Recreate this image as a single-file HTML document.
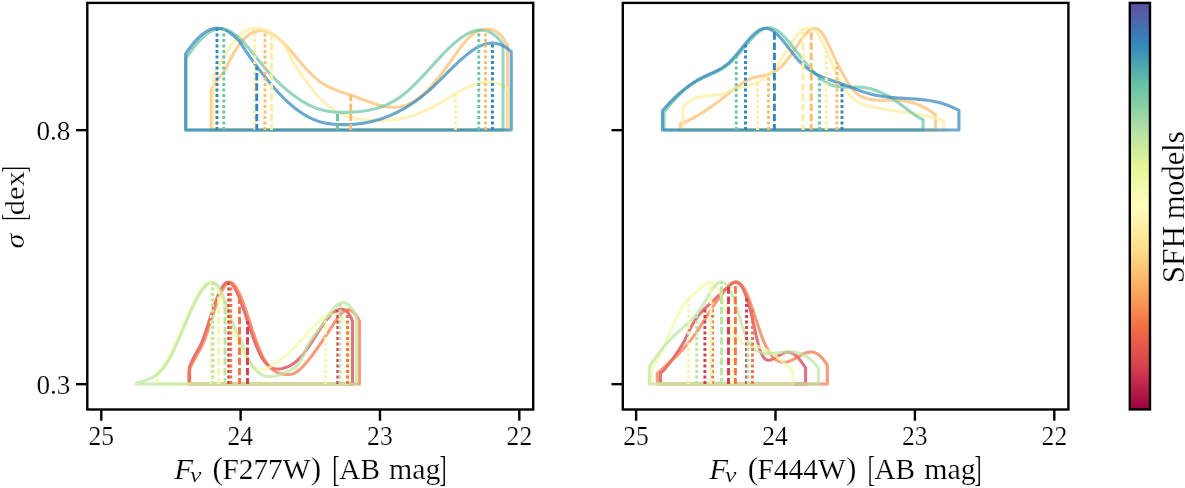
<!DOCTYPE html>
<html lang="en"><head><meta charset="utf-8"><title>SFH models</title>
<style>html,body{margin:0;padding:0;background:#fff}body{width:1185px;height:488px;overflow:hidden}svg{display:block}text{font-family:"Liberation Serif",serif;fill:#000;stroke:#fff;stroke-width:0.2px;paint-order:fill stroke}</style></head><body>
<svg width="1185" height="488" viewBox="0 0 1185 488">
<rect width="1185" height="488" fill="#fff"/>
<defs><linearGradient id="sp" x1="0" y1="0" x2="0" y2="1"><stop offset="0.0000" stop-color="#5e4fa2"/><stop offset="0.0250" stop-color="#545ca8"/><stop offset="0.0500" stop-color="#496aaf"/><stop offset="0.0750" stop-color="#3d79b6"/><stop offset="0.1000" stop-color="#3387bc"/><stop offset="0.1250" stop-color="#3d95b8"/><stop offset="0.1500" stop-color="#4ba4b1"/><stop offset="0.1750" stop-color="#58b2ac"/><stop offset="0.2000" stop-color="#66c2a5"/><stop offset="0.2250" stop-color="#76c8a5"/><stop offset="0.2500" stop-color="#86cfa5"/><stop offset="0.2750" stop-color="#99d6a4"/><stop offset="0.3000" stop-color="#aadca4"/><stop offset="0.3250" stop-color="#bae3a1"/><stop offset="0.3500" stop-color="#c8e99e"/><stop offset="0.3750" stop-color="#d6ee9b"/><stop offset="0.4000" stop-color="#e6f598"/><stop offset="0.4250" stop-color="#ecf7a1"/><stop offset="0.4500" stop-color="#f3faac"/><stop offset="0.4750" stop-color="#f9fcb5"/><stop offset="0.5000" stop-color="#ffffbe"/><stop offset="0.5250" stop-color="#fff7b2"/><stop offset="0.5500" stop-color="#fff0a6"/><stop offset="0.5750" stop-color="#fee797"/><stop offset="0.6000" stop-color="#fee08b"/><stop offset="0.6250" stop-color="#fed481"/><stop offset="0.6500" stop-color="#fdc776"/><stop offset="0.6750" stop-color="#fdbb6c"/><stop offset="0.7000" stop-color="#fdad60"/><stop offset="0.7250" stop-color="#fb9d59"/><stop offset="0.7500" stop-color="#f98e52"/><stop offset="0.7750" stop-color="#f67c4a"/><stop offset="0.8000" stop-color="#f46d43"/><stop offset="0.8250" stop-color="#eb6046"/><stop offset="0.8500" stop-color="#e45549"/><stop offset="0.8750" stop-color="#dd4a4c"/><stop offset="0.9000" stop-color="#d43d4f"/><stop offset="0.9250" stop-color="#c72e4c"/><stop offset="0.9500" stop-color="#b81e48"/><stop offset="0.9750" stop-color="#ab0f45"/><stop offset="1.0000" stop-color="#9e0142"/></linearGradient></defs>
<g fill="none" stroke-width="3.10" stroke-linejoin="round" stroke-linecap="butt">
<path d="M189.60 384.00 L189.60 366.60 L191.12 362.98 L192.64 359.76 L194.17 356.84 L195.69 354.09 L197.21 351.38 L198.73 348.60 L200.26 345.64 L201.78 342.35 L203.30 338.64 L204.82 334.39 L206.35 329.72 L207.87 324.93 L209.39 320.17 L210.91 315.46 L212.44 310.84 L213.96 306.38 L215.48 302.12 L217.00 298.12 L218.53 294.44 L220.05 291.14 L221.57 288.26 L223.09 285.87 L224.62 284.03 L226.14 282.78 L227.66 282.19 L229.18 282.30 L230.71 283.11 L232.23 284.55 L233.75 286.56 L235.27 289.10 L236.80 292.09 L238.32 295.48 L239.84 299.21 L241.36 303.22 L242.89 307.45 L244.41 311.85 L245.93 316.34 L247.45 320.89 L248.97 325.44 L250.50 329.95 L252.02 334.36 L253.54 338.64 L255.06 342.73 L256.59 346.59 L258.11 350.18 L259.63 353.44 L261.15 356.33 L262.68 358.88 L264.20 361.09 L265.72 362.98 L267.24 364.58 L268.77 365.90 L270.29 366.96 L271.81 367.78 L273.33 368.38 L274.86 368.78 L276.38 369.01 L277.90 369.06 L279.42 368.98 L280.95 368.77 L282.47 368.46 L283.99 368.06 L285.51 367.58 L287.04 367.01 L288.56 366.35 L290.08 365.59 L291.60 364.72 L293.13 363.75 L294.65 362.66 L296.17 361.44 L297.69 360.10 L299.21 358.63 L300.74 357.02 L302.26 355.27 L303.78 353.39 L305.30 351.38 L306.83 349.27 L308.35 347.08 L309.87 344.82 L311.39 342.50 L312.92 340.14 L314.44 337.76 L315.96 335.37 L317.48 332.99 L319.01 330.64 L320.53 328.32 L322.05 326.07 L323.57 323.89 L325.10 321.79 L326.62 319.81 L328.14 317.94 L329.66 316.21 L331.19 314.64 L332.71 313.23 L334.23 312.01 L335.75 310.99 L337.28 310.19 L338.80 309.62 L340.32 309.30 L341.84 309.25 L343.37 309.53 L344.89 310.18 L346.41 311.25 L347.93 312.79 L349.46 314.86 L350.98 317.49 L352.50 320.75 L352.50 384.00 Z" stroke="#d43d4f" stroke-opacity="0.72"/>
<path d="M660.40 384.00 L660.40 373.60 L661.93 372.03 L663.46 370.37 L664.99 368.64 L666.51 366.84 L668.04 364.96 L669.57 363.02 L671.10 361.01 L672.63 358.94 L674.16 356.82 L675.68 354.64 L677.21 352.41 L678.74 350.14 L680.27 347.81 L681.80 345.38 L683.33 342.78 L684.85 339.95 L686.38 336.84 L687.91 333.59 L689.44 330.36 L690.97 327.30 L692.50 324.50 L694.03 321.92 L695.55 319.55 L697.08 317.37 L698.61 315.36 L700.14 313.50 L701.67 311.76 L703.20 310.13 L704.72 308.59 L706.25 307.11 L707.78 305.68 L709.31 304.28 L710.84 302.88 L712.37 301.47 L713.89 300.05 L715.42 298.62 L716.95 297.18 L718.48 295.74 L720.01 294.29 L721.54 292.84 L723.07 291.38 L724.59 289.91 L726.12 288.45 L727.65 286.98 L729.18 285.53 L730.71 284.20 L732.24 283.09 L733.76 282.29 L735.29 281.92 L736.82 282.04 L738.35 282.71 L739.88 283.97 L741.41 285.87 L742.93 288.46 L744.46 291.76 L745.99 295.72 L747.52 300.31 L749.05 305.49 L750.58 311.22 L752.11 317.45 L753.63 324.15 L755.16 331.17 L756.69 338.04 L758.22 344.25 L759.75 349.34 L761.28 353.30 L762.80 356.23 L764.33 358.26 L765.86 359.53 L767.39 360.15 L768.92 360.24 L770.45 359.94 L771.97 359.36 L773.50 358.62 L775.03 357.81 L776.56 356.94 L778.09 356.06 L779.62 355.20 L781.15 354.39 L782.67 353.66 L784.20 353.05 L785.73 352.59 L787.26 352.31 L788.79 352.25 L790.32 352.44 L791.84 352.91 L793.37 353.68 L794.90 354.73 L796.43 356.04 L797.96 357.59 L799.49 359.35 L801.01 361.29 L802.54 363.40 L804.07 365.64 L805.60 368.00 L805.60 384.00 Z" stroke="#d43d4f" stroke-opacity="0.72"/>
<path d="M188.70 384.00 L188.70 371.50 L190.22 367.92 L191.75 364.69 L193.27 361.71 L194.80 358.91 L196.32 356.20 L197.85 353.52 L199.38 350.77 L200.90 347.88 L202.42 344.76 L203.95 341.33 L205.47 337.53 L207.00 333.27 L208.52 328.64 L210.05 323.79 L211.57 318.86 L213.10 314.00 L214.62 309.31 L216.15 304.86 L217.67 300.69 L219.20 296.83 L220.72 293.34 L222.25 290.25 L223.77 287.61 L225.30 285.47 L226.82 283.86 L228.35 282.83 L229.88 282.42 L231.40 282.68 L232.92 283.59 L234.45 285.09 L235.97 287.15 L237.50 289.70 L239.02 292.69 L240.55 296.07 L242.07 299.79 L243.60 303.80 L245.12 308.03 L246.65 312.45 L248.18 316.99 L249.70 321.61 L251.22 326.25 L252.75 330.87 L254.27 335.39 L255.80 339.79 L257.32 343.99 L258.85 347.96 L260.38 351.63 L261.90 354.96 L263.43 357.94 L264.95 360.59 L266.48 362.94 L268.00 364.99 L269.52 366.78 L271.05 368.31 L272.57 369.63 L274.10 370.73 L275.62 371.65 L277.15 372.41 L278.68 373.02 L280.20 373.50 L281.73 373.88 L283.25 374.18 L284.77 374.41 L286.30 374.55 L287.82 374.59 L289.35 374.50 L290.88 374.28 L292.40 373.91 L293.93 373.36 L295.45 372.62 L296.98 371.68 L298.50 370.56 L300.02 369.27 L301.55 367.84 L303.07 366.28 L304.60 364.61 L306.12 362.84 L307.65 361.01 L309.18 359.12 L310.70 357.18 L312.23 355.19 L313.75 353.16 L315.27 351.08 L316.80 348.96 L318.32 346.81 L319.85 344.62 L321.38 342.40 L322.90 340.16 L324.43 337.89 L325.95 335.60 L327.48 333.29 L329.00 330.97 L330.52 328.63 L332.05 326.29 L333.57 323.94 L335.10 321.62 L336.62 319.37 L338.15 317.25 L339.68 315.29 L341.20 313.55 L342.73 312.07 L344.25 310.90 L345.77 310.08 L347.30 309.66 L348.82 309.68 L350.35 310.14 L351.88 311.01 L353.40 312.27 L354.93 313.90 L356.45 315.87 L357.98 318.16 L359.50 320.75 L359.50 384.00 Z" stroke="#f57547" stroke-opacity="0.72"/>
<path d="M657.30 384.00 L657.30 373.60 L658.82 372.15 L660.34 370.73 L661.85 369.32 L663.37 367.93 L664.89 366.55 L666.41 365.18 L667.92 363.80 L669.44 362.42 L670.96 361.04 L672.48 359.64 L674.00 358.22 L675.51 356.78 L677.03 355.31 L678.55 353.81 L680.07 352.27 L681.59 350.69 L683.10 349.07 L684.62 347.40 L686.14 345.66 L687.66 343.87 L689.17 342.02 L690.69 340.10 L692.21 338.11 L693.73 336.07 L695.25 333.96 L696.76 331.79 L698.28 329.56 L699.80 327.28 L701.32 324.94 L702.84 322.54 L704.35 320.10 L705.87 317.63 L707.39 315.17 L708.91 312.74 L710.42 310.36 L711.94 308.06 L713.46 305.84 L714.98 303.68 L716.50 301.58 L718.01 299.52 L719.53 297.51 L721.05 295.53 L722.57 293.56 L724.09 291.62 L725.60 289.73 L727.12 287.95 L728.64 286.33 L730.16 284.94 L731.67 283.82 L733.19 282.99 L734.71 282.49 L736.23 282.35 L737.75 282.60 L739.26 283.27 L740.78 284.39 L742.30 286.00 L743.82 288.12 L745.34 290.79 L746.85 293.95 L748.37 297.55 L749.89 301.50 L751.41 305.73 L752.92 310.18 L754.44 314.75 L755.96 319.39 L757.48 324.02 L759.00 328.55 L760.51 332.93 L762.03 337.07 L763.55 340.91 L765.07 344.38 L766.59 347.49 L768.10 350.25 L769.62 352.69 L771.14 354.81 L772.66 356.63 L774.17 358.17 L775.69 359.44 L777.21 360.45 L778.73 361.23 L780.25 361.78 L781.76 362.12 L783.28 362.26 L784.80 362.23 L786.32 362.03 L787.84 361.67 L789.35 361.19 L790.87 360.58 L792.39 359.88 L793.91 359.11 L795.42 358.28 L796.94 357.42 L798.46 356.55 L799.98 355.69 L801.50 354.88 L803.01 354.12 L804.53 353.44 L806.05 352.86 L807.57 352.41 L809.09 352.11 L810.60 351.98 L812.12 352.04 L813.64 352.31 L815.16 352.82 L816.67 353.55 L818.19 354.51 L819.71 355.71 L821.23 357.13 L822.75 358.78 L824.26 360.66 L825.78 362.77 L827.30 365.11 L827.30 384.00 Z" stroke="#f57547" stroke-opacity="0.72"/>
<path d="M211.25 130.00 L211.25 90.50 L212.76 87.18 L214.27 84.40 L215.78 82.03 L217.30 79.96 L218.81 78.07 L220.32 76.25 L221.83 74.38 L223.34 72.35 L224.85 70.05 L226.36 67.40 L227.88 64.47 L229.39 61.42 L230.90 58.39 L232.41 55.50 L233.92 52.79 L235.43 50.25 L236.95 47.88 L238.46 45.69 L239.97 43.65 L241.48 41.78 L242.99 40.06 L244.50 38.50 L246.01 37.08 L247.53 35.82 L249.04 34.70 L250.55 33.72 L252.06 32.89 L253.57 32.19 L255.08 31.63 L256.59 31.21 L258.11 30.91 L259.62 30.74 L261.13 30.70 L262.64 30.79 L264.15 30.99 L265.66 31.32 L267.17 31.76 L268.69 32.31 L270.20 32.98 L271.71 33.75 L273.22 34.64 L274.73 35.62 L276.24 36.71 L277.76 37.89 L279.27 39.16 L280.78 40.51 L282.29 41.93 L283.80 43.42 L285.31 44.97 L286.82 46.57 L288.34 48.22 L289.85 49.90 L291.36 51.62 L292.87 53.37 L294.38 55.14 L295.89 56.92 L297.40 58.70 L298.92 60.48 L300.43 62.26 L301.94 64.02 L303.45 65.76 L304.96 67.48 L306.47 69.15 L307.98 70.79 L309.50 72.38 L311.01 73.92 L312.52 75.39 L314.03 76.79 L315.54 78.12 L317.05 79.37 L318.57 80.55 L320.08 81.66 L321.59 82.70 L323.10 83.68 L324.61 84.60 L326.12 85.46 L327.63 86.27 L329.15 87.04 L330.66 87.76 L332.17 88.44 L333.68 89.09 L335.19 89.70 L336.70 90.29 L338.21 90.85 L339.73 91.39 L341.24 91.92 L342.75 92.43 L344.26 92.94 L345.77 93.43 L347.28 93.93 L348.79 94.43 L350.31 94.94 L351.82 95.45 L353.33 95.98 L354.84 96.53 L356.35 97.08 L357.86 97.65 L359.38 98.22 L360.89 98.80 L362.40 99.38 L363.91 99.95 L365.42 100.53 L366.93 101.10 L368.44 101.66 L369.96 102.20 L371.47 102.74 L372.98 103.25 L374.49 103.75 L376.00 104.23 L377.51 104.68 L379.02 105.11 L380.54 105.50 L382.05 105.87 L383.56 106.20 L385.07 106.49 L386.58 106.74 L388.09 106.95 L389.60 107.11 L391.12 107.23 L392.63 107.30 L394.14 107.31 L395.65 107.27 L397.16 107.17 L398.67 107.00 L400.18 106.78 L401.70 106.49 L403.21 106.13 L404.72 105.70 L406.23 105.19 L407.74 104.61 L409.25 103.95 L410.77 103.21 L412.28 102.39 L413.79 101.50 L415.30 100.54 L416.81 99.50 L418.32 98.39 L419.83 97.21 L421.35 95.97 L422.86 94.66 L424.37 93.29 L425.88 91.86 L427.39 90.37 L428.90 88.82 L430.41 87.22 L431.93 85.56 L433.44 83.85 L434.95 82.09 L436.46 80.28 L437.97 78.43 L439.48 76.53 L440.99 74.59 L442.51 72.60 L444.02 70.58 L445.53 68.52 L447.04 66.43 L448.55 64.30 L450.06 62.15 L451.58 59.99 L453.09 57.83 L454.60 55.68 L456.11 53.55 L457.62 51.44 L459.13 49.38 L460.64 47.37 L462.16 45.42 L463.67 43.54 L465.18 41.74 L466.69 40.03 L468.20 38.43 L469.71 36.94 L471.22 35.57 L472.74 34.33 L474.25 33.24 L475.76 32.31 L477.27 31.52 L478.78 30.88 L480.29 30.37 L481.80 29.97 L483.32 29.67 L484.83 29.47 L486.34 29.35 L487.85 29.32 L489.36 29.40 L490.87 29.61 L492.39 29.97 L493.90 30.49 L495.41 31.19 L496.92 32.10 L498.43 33.22 L499.94 34.57 L501.45 36.18 L502.97 38.06 L504.48 40.23 L505.99 42.70 L507.50 45.50 L507.50 130.00 Z" stroke="#fdbd6d" stroke-opacity="0.72"/>
<path d="M680.40 130.00 L680.40 123.90 L681.91 123.31 L683.42 122.70 L684.93 122.05 L686.44 121.38 L687.94 120.67 L689.45 119.94 L690.96 119.18 L692.47 118.40 L693.98 117.59 L695.49 116.75 L697.00 115.89 L698.51 115.00 L700.02 114.09 L701.52 113.16 L703.03 112.21 L704.54 111.24 L706.05 110.24 L707.56 109.23 L709.07 108.20 L710.58 107.15 L712.09 106.08 L713.60 105.00 L715.10 103.90 L716.61 102.79 L718.12 101.66 L719.63 100.52 L721.14 99.36 L722.65 98.19 L724.16 97.02 L725.67 95.84 L727.18 94.65 L728.68 93.47 L730.19 92.28 L731.70 91.10 L733.21 89.93 L734.72 88.76 L736.23 87.61 L737.74 86.48 L739.25 85.37 L740.76 84.30 L742.26 83.28 L743.77 82.31 L745.28 81.39 L746.79 80.55 L748.30 79.79 L749.81 79.11 L751.32 78.52 L752.83 78.02 L754.33 77.59 L755.84 77.21 L757.35 76.88 L758.86 76.57 L760.37 76.28 L761.88 75.99 L763.39 75.69 L764.90 75.36 L766.41 74.99 L767.91 74.56 L769.42 74.07 L770.93 73.49 L772.44 72.82 L773.95 72.04 L775.46 71.13 L776.97 70.10 L778.48 68.94 L779.99 67.66 L781.49 66.26 L783.00 64.74 L784.51 63.11 L786.02 61.37 L787.53 59.52 L789.04 57.56 L790.55 55.50 L792.06 53.34 L793.57 51.11 L795.07 48.82 L796.58 46.52 L798.09 44.23 L799.60 41.98 L801.11 39.80 L802.62 37.71 L804.13 35.76 L805.64 33.97 L807.15 32.37 L808.65 30.99 L810.16 29.86 L811.67 29.01 L813.18 28.46 L814.69 28.26 L816.20 28.42 L817.71 28.98 L819.22 29.97 L820.73 31.41 L822.23 33.30 L823.74 35.57 L825.25 38.16 L826.76 41.02 L828.27 44.08 L829.78 47.29 L831.29 50.58 L832.80 53.90 L834.31 57.18 L835.81 60.37 L837.32 63.45 L838.83 66.43 L840.34 69.31 L841.85 72.11 L843.36 74.82 L844.87 77.46 L846.38 80.03 L847.89 82.50 L849.39 84.83 L850.90 87.02 L852.41 89.02 L853.92 90.81 L855.43 92.36 L856.94 93.68 L858.45 94.79 L859.96 95.73 L861.47 96.52 L862.97 97.19 L864.48 97.76 L865.99 98.26 L867.50 98.69 L869.01 99.06 L870.52 99.38 L872.03 99.63 L873.54 99.85 L875.04 100.01 L876.55 100.14 L878.06 100.23 L879.57 100.29 L881.08 100.33 L882.59 100.35 L884.10 100.35 L885.61 100.33 L887.12 100.31 L888.62 100.29 L890.13 100.27 L891.64 100.25 L893.15 100.25 L894.66 100.26 L896.17 100.29 L897.68 100.35 L899.19 100.43 L900.70 100.55 L902.20 100.71 L903.71 100.90 L905.22 101.13 L906.73 101.39 L908.24 101.70 L909.75 102.04 L911.26 102.42 L912.77 102.85 L914.28 103.31 L915.78 103.82 L917.29 104.37 L918.80 104.97 L920.31 105.61 L921.82 106.29 L923.33 107.02 L924.84 107.80 L926.35 108.62 L927.86 109.50 L929.36 110.42 L930.87 111.39 L932.38 112.41 L933.89 113.48 L935.40 114.60 L935.40 130.00 Z" stroke="#fdbd6d" stroke-opacity="0.72"/>
<path d="M213.75 130.00 L213.75 75.50 L215.26 72.62 L216.77 69.78 L218.28 66.98 L219.80 64.23 L221.31 61.54 L222.82 58.90 L224.33 56.34 L225.84 53.85 L227.35 51.44 L228.87 49.12 L230.38 46.89 L231.89 44.76 L233.40 42.73 L234.91 40.82 L236.42 39.02 L237.93 37.35 L239.45 35.80 L240.96 34.40 L242.47 33.13 L243.98 32.02 L245.49 31.06 L247.00 30.24 L248.52 29.56 L250.03 29.02 L251.54 28.61 L253.05 28.32 L254.56 28.16 L256.07 28.11 L257.58 28.18 L259.10 28.35 L260.61 28.62 L262.12 28.98 L263.63 29.44 L265.14 29.98 L266.65 30.61 L268.17 31.31 L269.68 32.08 L271.19 32.92 L272.70 33.82 L274.21 34.77 L275.72 35.79 L277.23 36.92 L278.75 38.22 L280.26 39.75 L281.77 41.56 L283.28 43.66 L284.79 46.05 L286.30 48.72 L287.82 51.59 L289.33 54.56 L290.84 57.53 L292.35 60.40 L293.86 63.09 L295.37 65.60 L296.88 67.97 L298.40 70.23 L299.91 72.41 L301.42 74.54 L302.93 76.66 L304.44 78.79 L305.95 80.91 L307.47 83.01 L308.98 85.09 L310.49 87.13 L312.00 89.12 L313.51 91.05 L315.02 92.91 L316.53 94.69 L318.05 96.38 L319.56 98.00 L321.07 99.53 L322.58 101.00 L324.09 102.38 L325.60 103.70 L327.12 104.95 L328.63 106.13 L330.14 107.25 L331.65 108.30 L333.16 109.29 L334.67 110.23 L336.18 111.10 L337.70 111.92 L339.21 112.69 L340.72 113.41 L342.23 114.07 L343.74 114.69 L345.25 115.27 L346.77 115.80 L348.28 116.30 L349.79 116.75 L351.30 117.17 L352.81 117.55 L354.32 117.90 L355.83 118.22 L357.35 118.51 L358.86 118.77 L360.37 119.01 L361.88 119.23 L363.39 119.42 L364.90 119.60 L366.42 119.76 L367.93 119.91 L369.44 120.03 L370.95 120.14 L372.46 120.24 L373.97 120.31 L375.48 120.37 L377.00 120.41 L378.51 120.44 L380.02 120.44 L381.53 120.42 L383.04 120.39 L384.55 120.34 L386.07 120.27 L387.58 120.17 L389.09 120.06 L390.60 119.93 L392.11 119.78 L393.62 119.61 L395.13 119.41 L396.65 119.20 L398.16 118.96 L399.67 118.70 L401.18 118.42 L402.69 118.12 L404.20 117.80 L405.72 117.45 L407.23 117.08 L408.74 116.69 L410.25 116.28 L411.76 115.84 L413.27 115.38 L414.78 114.89 L416.30 114.38 L417.81 113.84 L419.32 113.28 L420.83 112.70 L422.34 112.09 L423.85 111.46 L425.37 110.80 L426.88 110.11 L428.39 109.40 L429.90 108.66 L431.41 107.89 L432.92 107.10 L434.43 106.28 L435.95 105.44 L437.46 104.59 L438.97 103.71 L440.48 102.83 L441.99 101.93 L443.50 101.02 L445.02 100.10 L446.53 99.18 L448.04 98.26 L449.55 97.34 L451.06 96.43 L452.57 95.51 L454.08 94.61 L455.60 93.72 L457.11 92.85 L458.62 91.99 L460.13 91.14 L461.64 90.32 L463.15 89.53 L464.67 88.76 L466.18 88.02 L467.69 87.31 L469.20 86.63 L470.71 85.99 L472.22 85.39 L473.73 84.83 L475.25 84.32 L476.76 83.85 L478.27 83.43 L479.78 83.06 L481.29 82.75 L482.80 82.49 L484.32 82.29 L485.83 82.16 L487.34 82.09 L488.85 82.08 L490.36 82.15 L491.87 82.28 L493.38 82.50 L494.90 82.78 L496.41 83.15 L497.92 83.60 L499.43 84.14 L500.94 84.76 L502.45 85.47 L503.97 86.27 L505.48 87.17 L506.99 88.17 L508.50 89.26 L508.50 130.00 Z" stroke="#feeda1" stroke-opacity="0.72"/>
<path d="M682.90 130.00 L682.90 107.50 L684.42 105.88 L685.93 104.44 L687.45 103.14 L688.96 101.99 L690.48 100.97 L691.99 100.08 L693.51 99.30 L695.03 98.63 L696.54 98.05 L698.06 97.57 L699.57 97.15 L701.09 96.81 L702.60 96.52 L704.12 96.28 L705.64 96.09 L707.15 95.92 L708.67 95.76 L710.18 95.62 L711.70 95.49 L713.21 95.34 L714.73 95.17 L716.25 94.97 L717.76 94.74 L719.28 94.46 L720.79 94.13 L722.31 93.73 L723.82 93.28 L725.34 92.78 L726.86 92.25 L728.37 91.70 L729.89 91.13 L731.40 90.56 L732.92 90.00 L734.43 89.45 L735.95 88.92 L737.47 88.43 L738.98 87.99 L740.50 87.57 L742.01 87.19 L743.53 86.82 L745.04 86.46 L746.56 86.09 L748.08 85.71 L749.59 85.31 L751.11 84.87 L752.62 84.39 L754.14 83.86 L755.65 83.27 L757.17 82.60 L758.68 81.85 L760.20 81.01 L761.72 80.08 L763.23 79.06 L764.75 77.95 L766.26 76.74 L767.78 75.43 L769.29 74.04 L770.81 72.54 L772.33 70.95 L773.84 69.25 L775.36 67.46 L776.87 65.56 L778.39 63.56 L779.90 61.46 L781.42 59.26 L782.94 56.94 L784.45 54.53 L785.97 52.05 L787.48 49.54 L789.00 47.02 L790.51 44.54 L792.03 42.13 L793.55 39.82 L795.06 37.65 L796.58 35.65 L798.09 33.85 L799.61 32.30 L801.12 31.01 L802.64 29.98 L804.16 29.20 L805.67 28.67 L807.19 28.39 L808.70 28.34 L810.22 28.53 L811.73 28.94 L813.25 29.59 L814.77 30.52 L816.28 31.87 L817.80 33.74 L819.31 36.25 L820.83 39.22 L822.34 42.34 L823.86 45.57 L825.38 48.88 L826.89 52.25 L828.41 55.66 L829.92 59.09 L831.44 62.52 L832.95 65.91 L834.47 69.26 L835.99 72.54 L837.50 75.72 L839.02 78.78 L840.53 81.71 L842.05 84.47 L843.56 87.05 L845.08 89.42 L846.60 91.57 L848.11 93.52 L849.63 95.28 L851.14 96.85 L852.66 98.26 L854.17 99.51 L855.69 100.61 L857.21 101.59 L858.72 102.44 L860.24 103.19 L861.75 103.85 L863.27 104.42 L864.78 104.93 L866.30 105.38 L867.82 105.79 L869.33 106.16 L870.85 106.51 L872.36 106.86 L873.88 107.18 L875.39 107.50 L876.91 107.81 L878.42 108.10 L879.94 108.39 L881.46 108.66 L882.97 108.93 L884.49 109.19 L886.00 109.45 L887.52 109.69 L889.03 109.94 L890.55 110.17 L892.07 110.41 L893.58 110.63 L895.10 110.86 L896.61 111.08 L898.13 111.31 L899.64 111.53 L901.16 111.75 L902.68 111.97 L904.19 112.20 L905.71 112.42 L907.22 112.65 L908.74 112.88 L910.25 113.12 L911.77 113.36 L913.29 113.60 L914.80 113.85 L916.32 114.11 L917.83 114.38 L919.35 114.65 L920.86 114.93 L922.38 115.23 L923.90 115.53 L925.41 115.84 L926.93 116.17 L928.44 116.50 L929.96 116.85 L931.47 117.22 L932.99 117.60 L934.51 117.99 L936.02 118.40 L937.54 118.82 L939.05 119.27 L940.57 119.73 L942.08 120.20 L943.60 120.70 L943.60 130.00 Z" stroke="#feeda1" stroke-opacity="0.72"/>
<path d="M157.50 384.00 L157.50 371.99 L159.01 370.85 L160.53 369.41 L162.04 367.70 L163.56 365.74 L165.07 363.54 L166.59 361.13 L168.10 358.52 L169.61 355.73 L171.13 352.79 L172.64 349.70 L174.16 346.49 L175.67 343.17 L177.19 339.77 L178.70 336.31 L180.21 332.79 L181.73 329.25 L183.24 325.69 L184.76 322.14 L186.27 318.62 L187.79 315.14 L189.30 311.73 L190.81 308.40 L192.33 305.17 L193.84 302.05 L195.36 299.08 L196.87 296.26 L198.39 293.61 L199.90 291.16 L201.41 288.92 L202.93 286.92 L204.44 285.16 L205.96 283.71 L207.47 282.62 L208.99 281.94 L210.50 281.74 L212.01 282.05 L213.53 282.95 L215.04 284.49 L216.56 286.67 L218.07 289.47 L219.59 292.88 L221.10 296.85 L222.61 301.35 L224.13 306.16 L225.64 311.05 L227.16 315.78 L228.67 320.13 L230.19 324.11 L231.70 327.80 L233.21 331.31 L234.73 334.71 L236.24 338.10 L237.76 341.52 L239.27 344.91 L240.79 348.23 L242.30 351.41 L243.81 354.39 L245.33 357.13 L246.84 359.57 L248.36 361.74 L249.87 363.62 L251.39 365.23 L252.90 366.58 L254.41 367.67 L255.93 368.51 L257.44 369.11 L258.96 369.48 L260.47 369.65 L261.99 369.63 L263.50 369.43 L265.01 369.06 L266.53 368.56 L268.04 367.92 L269.56 367.16 L271.07 366.31 L272.59 365.38 L274.10 364.37 L275.61 363.32 L277.13 362.22 L278.64 361.10 L280.16 359.96 L281.67 358.78 L283.19 357.58 L284.70 356.35 L286.21 355.08 L287.73 353.78 L289.24 352.45 L290.76 351.08 L292.27 349.67 L293.79 348.22 L295.30 346.73 L296.81 345.19 L298.33 343.61 L299.84 341.99 L301.36 340.32 L302.87 338.61 L304.39 336.87 L305.90 335.12 L307.41 333.37 L308.93 331.62 L310.44 329.90 L311.96 328.20 L313.47 326.56 L314.99 324.96 L316.50 323.44 L318.01 321.99 L319.53 320.63 L321.04 319.38 L322.56 318.23 L324.07 317.22 L325.59 316.34 L327.10 315.61 L328.61 315.03 L330.13 314.64 L331.64 314.42 L333.16 314.40 L334.67 314.58 L336.19 314.99 L337.70 315.62 L339.21 316.50 L340.73 317.63 L342.24 319.02 L343.76 320.69 L345.27 322.65 L346.79 324.91 L348.30 327.48 L348.30 384.00 Z" stroke="#f1f9a9" stroke-opacity="0.72"/>
<path d="M651.80 384.00 L651.80 368.09 L653.32 366.04 L654.83 363.74 L656.35 361.20 L657.86 358.46 L659.38 355.54 L660.90 352.46 L662.41 349.25 L663.93 345.94 L665.45 342.56 L666.96 339.12 L668.48 335.65 L669.99 332.19 L671.51 328.74 L673.03 325.35 L674.54 322.03 L676.06 318.82 L677.57 315.72 L679.09 312.77 L680.61 309.99 L682.12 307.41 L683.64 305.04 L685.15 302.93 L686.67 301.06 L688.19 299.40 L689.70 297.91 L691.22 296.54 L692.74 295.22 L694.25 293.93 L695.77 292.60 L697.28 291.22 L698.80 289.82 L700.32 288.44 L701.83 287.12 L703.35 285.88 L704.86 284.77 L706.38 283.83 L707.90 283.10 L709.41 282.65 L710.93 282.53 L712.45 282.82 L713.96 283.57 L715.48 284.84 L716.99 286.70 L718.51 289.20 L720.03 292.39 L721.54 296.16 L723.06 300.38 L724.57 304.92 L726.09 309.64 L727.61 314.41 L729.12 319.09 L730.64 323.55 L732.15 327.65 L733.67 331.26 L735.19 334.31 L736.70 336.84 L738.22 338.91 L739.74 340.56 L741.25 341.85 L742.77 342.83 L744.28 343.56 L745.80 344.07 L747.32 344.44 L748.83 344.70 L750.35 344.91 L751.86 345.12 L753.38 345.38 L754.90 345.71 L756.41 346.10 L757.93 346.56 L759.45 347.08 L760.96 347.66 L762.48 348.30 L763.99 349.00 L765.51 349.75 L767.03 350.56 L768.54 351.42 L770.06 352.34 L771.57 353.30 L773.09 354.31 L774.61 355.37 L776.12 356.48 L777.64 357.62 L779.15 358.82 L780.67 360.05 L782.19 361.32 L783.70 362.63 L785.22 363.98 L786.74 365.36 L788.25 366.77 L789.77 368.22 L791.28 369.69 L792.80 371.20 L792.80 384.00 Z" stroke="#f1f9a9" stroke-opacity="0.72"/>
<path d="M136.25 384.00 L136.25 383.30 L137.77 382.81 L139.29 382.33 L140.80 381.87 L142.32 381.41 L143.84 380.94 L145.36 380.44 L146.87 379.90 L148.39 379.30 L149.91 378.65 L151.43 377.92 L152.94 377.09 L154.46 376.17 L155.98 375.13 L157.50 373.97 L159.01 372.66 L160.53 371.20 L162.05 369.58 L163.57 367.78 L165.08 365.79 L166.60 363.59 L168.12 361.18 L169.64 358.56 L171.15 355.74 L172.67 352.75 L174.19 349.61 L175.71 346.34 L177.22 342.96 L178.74 339.49 L180.26 335.95 L181.78 332.36 L183.30 328.75 L184.81 325.13 L186.33 321.53 L187.85 317.96 L189.37 314.45 L190.88 311.02 L192.40 307.69 L193.92 304.48 L195.44 301.41 L196.95 298.50 L198.47 295.77 L199.99 293.24 L201.51 290.93 L203.02 288.86 L204.54 287.04 L206.06 285.50 L207.58 284.27 L209.09 283.35 L210.61 282.77 L212.13 282.54 L213.65 282.70 L215.16 283.31 L216.68 284.44 L218.20 286.17 L219.72 288.57 L221.23 291.67 L222.75 295.35 L224.27 299.47 L225.79 303.89 L227.31 308.46 L228.82 313.04 L230.34 317.49 L231.86 321.67 L233.38 325.42 L234.89 328.62 L236.41 331.35 L237.93 333.99 L239.45 336.96 L240.96 340.52 L242.48 344.45 L244.00 348.49 L245.52 352.35 L247.03 355.88 L248.55 359.08 L250.07 361.96 L251.59 364.54 L253.10 366.82 L254.62 368.83 L256.14 370.57 L257.66 372.05 L259.17 373.30 L260.69 374.33 L262.21 375.15 L263.73 375.78 L265.24 376.23 L266.76 376.52 L268.28 376.66 L269.80 376.67 L271.32 376.56 L272.83 376.34 L274.35 376.04 L275.87 375.67 L277.39 375.24 L278.90 374.76 L280.42 374.24 L281.94 373.68 L283.46 373.10 L284.97 372.49 L286.49 371.85 L288.01 371.21 L289.53 370.55 L291.04 369.86 L292.56 369.09 L294.08 368.14 L295.60 366.96 L297.11 365.48 L298.63 363.61 L300.15 361.29 L301.67 358.50 L303.18 355.38 L304.70 352.11 L306.22 348.85 L307.74 345.78 L309.25 343.01 L310.77 340.51 L312.29 338.22 L313.81 336.09 L315.33 334.07 L316.84 332.09 L318.36 330.12 L319.88 328.09 L321.40 325.95 L322.91 323.73 L324.43 321.46 L325.95 319.18 L327.47 316.91 L328.98 314.68 L330.50 312.55 L332.02 310.53 L333.54 308.66 L335.05 306.98 L336.57 305.52 L338.09 304.31 L339.61 303.39 L341.12 302.79 L342.64 302.52 L344.16 302.61 L345.68 303.04 L347.19 303.85 L348.71 305.03 L350.23 306.59 L351.75 308.55 L353.26 310.91 L354.78 313.69 L356.30 316.89 L356.30 384.00 Z" stroke="#bce4a0" stroke-opacity="0.72"/>
<path d="M649.30 384.00 L649.30 366.91 L650.82 364.53 L652.35 362.22 L653.87 359.98 L655.39 357.81 L656.92 355.70 L658.44 353.66 L659.96 351.67 L661.49 349.75 L663.01 347.88 L664.53 346.06 L666.06 344.30 L667.58 342.58 L669.10 340.92 L670.63 339.30 L672.15 337.72 L673.67 336.19 L675.20 334.69 L676.72 333.24 L678.25 331.81 L679.77 330.43 L681.29 329.07 L682.82 327.74 L684.34 326.43 L685.86 325.11 L687.39 323.78 L688.91 322.41 L690.43 320.99 L691.96 319.49 L693.48 317.90 L695.00 316.20 L696.53 314.37 L698.05 312.39 L699.57 310.25 L701.10 307.93 L702.62 305.44 L704.14 302.84 L705.67 300.18 L707.19 297.50 L708.71 294.88 L710.24 292.35 L711.76 289.98 L713.28 287.81 L714.81 285.91 L716.33 284.31 L717.85 283.09 L719.38 282.28 L720.90 281.93 L722.42 282.03 L723.95 282.62 L725.47 283.70 L726.99 285.28 L728.52 287.39 L730.04 290.03 L731.56 293.23 L733.09 296.98 L734.61 301.30 L736.14 306.04 L737.66 311.06 L739.18 316.18 L740.71 321.24 L742.23 326.11 L743.75 330.67 L745.28 334.85 L746.80 338.55 L748.32 341.70 L749.85 344.28 L751.37 346.39 L752.89 348.07 L754.42 349.40 L755.94 350.44 L757.46 351.27 L758.99 351.94 L760.51 352.46 L762.03 352.86 L763.56 353.15 L765.08 353.34 L766.60 353.45 L768.13 353.49 L769.65 353.48 L771.17 353.43 L772.70 353.35 L774.22 353.23 L775.74 353.09 L777.27 352.94 L778.79 352.78 L780.31 352.61 L781.84 352.45 L783.36 352.31 L784.88 352.18 L786.41 352.08 L787.93 352.01 L789.45 351.98 L790.98 352.00 L792.50 352.07 L794.03 352.21 L795.55 352.41 L797.07 352.68 L798.60 353.04 L800.12 353.48 L801.64 354.02 L803.17 354.66 L804.69 355.41 L806.21 356.27 L807.74 357.26 L809.26 358.38 L810.78 359.63 L812.31 361.03 L813.83 362.58 L815.35 364.29 L816.88 366.15 L818.40 368.19 L818.40 384.00 Z" stroke="#bce4a0" stroke-opacity="0.72"/>
<path d="M186.00 130.00 L186.00 58.42 L187.51 56.18 L189.02 53.99 L190.53 51.87 L192.04 49.82 L193.55 47.83 L195.06 45.93 L196.57 44.10 L198.08 42.35 L199.59 40.69 L201.10 39.12 L202.60 37.64 L204.11 36.26 L205.62 34.99 L207.13 33.82 L208.64 32.76 L210.15 31.82 L211.66 31.00 L213.17 30.29 L214.68 29.72 L216.19 29.27 L217.70 28.96 L219.21 28.78 L220.72 28.75 L222.23 28.84 L223.74 29.07 L225.25 29.43 L226.76 29.90 L228.27 30.50 L229.78 31.21 L231.29 32.03 L232.80 32.96 L234.30 34.00 L235.81 35.13 L237.32 36.36 L238.83 37.68 L240.34 39.09 L241.85 40.59 L243.36 42.16 L244.87 43.79 L246.38 45.49 L247.89 47.23 L249.40 49.02 L250.91 50.83 L252.42 52.67 L253.93 54.53 L255.44 56.39 L256.95 58.25 L258.46 60.11 L259.97 61.95 L261.48 63.78 L262.99 65.59 L264.50 67.38 L266.00 69.14 L267.51 70.87 L269.02 72.57 L270.53 74.24 L272.04 75.87 L273.55 77.46 L275.06 79.02 L276.57 80.55 L278.08 82.04 L279.59 83.49 L281.10 84.92 L282.61 86.30 L284.12 87.66 L285.63 88.98 L287.14 90.26 L288.65 91.52 L290.16 92.73 L291.67 93.92 L293.18 95.07 L294.69 96.19 L296.20 97.27 L297.70 98.32 L299.21 99.33 L300.72 100.31 L302.23 101.25 L303.74 102.15 L305.25 103.01 L306.76 103.84 L308.27 104.62 L309.78 105.37 L311.29 106.07 L312.80 106.74 L314.31 107.36 L315.82 107.94 L317.33 108.48 L318.84 108.97 L320.35 109.43 L321.86 109.85 L323.37 110.23 L324.88 110.57 L326.39 110.89 L327.90 111.16 L329.40 111.41 L330.91 111.63 L332.42 111.81 L333.93 111.97 L335.44 112.10 L336.95 112.20 L338.46 112.29 L339.97 112.34 L341.48 112.38 L342.99 112.39 L344.50 112.39 L346.01 112.37 L347.52 112.33 L349.03 112.27 L350.54 112.20 L352.05 112.12 L353.56 112.03 L355.07 111.92 L356.58 111.80 L358.09 111.67 L359.60 111.52 L361.10 111.35 L362.61 111.17 L364.12 110.96 L365.63 110.74 L367.14 110.49 L368.65 110.22 L370.16 109.92 L371.67 109.60 L373.18 109.25 L374.69 108.87 L376.20 108.47 L377.71 108.03 L379.22 107.56 L380.73 107.06 L382.24 106.52 L383.75 105.95 L385.26 105.33 L386.77 104.68 L388.28 103.99 L389.79 103.26 L391.30 102.49 L392.80 101.67 L394.31 100.80 L395.82 99.89 L397.33 98.93 L398.84 97.92 L400.35 96.86 L401.86 95.75 L403.37 94.58 L404.88 93.37 L406.39 92.11 L407.90 90.81 L409.41 89.46 L410.92 88.08 L412.43 86.66 L413.94 85.20 L415.45 83.71 L416.96 82.19 L418.47 80.64 L419.98 79.07 L421.49 77.48 L423.00 75.87 L424.50 74.24 L426.01 72.60 L427.52 70.95 L429.03 69.29 L430.54 67.63 L432.05 65.97 L433.56 64.31 L435.07 62.65 L436.58 61.00 L438.09 59.36 L439.60 57.74 L441.11 56.13 L442.62 54.54 L444.13 52.98 L445.64 51.44 L447.15 49.93 L448.66 48.45 L450.17 47.00 L451.68 45.59 L453.19 44.22 L454.70 42.89 L456.20 41.61 L457.71 40.37 L459.22 39.19 L460.73 38.07 L462.24 37.00 L463.75 35.99 L465.26 35.04 L466.77 34.16 L468.28 33.36 L469.79 32.63 L471.30 31.98 L472.81 31.42 L474.32 30.94 L475.83 30.56 L477.34 30.28 L478.85 30.09 L480.36 30.01 L481.87 30.04 L483.38 30.19 L484.89 30.45 L486.40 30.83 L487.90 31.34 L489.41 31.98 L490.92 32.75 L492.43 33.67 L493.94 34.72 L495.45 35.92 L496.96 37.27 L498.47 38.77 L499.98 40.43 L501.49 42.26 L503.00 44.25 L503.00 130.00 Z" stroke="#6ec5a5" stroke-opacity="0.72"/>
<path d="M664.00 130.00 L664.00 112.30 L665.52 110.37 L667.03 108.48 L668.55 106.63 L670.06 104.82 L671.58 103.05 L673.09 101.33 L674.61 99.66 L676.12 98.03 L677.64 96.45 L679.15 94.92 L680.67 93.45 L682.18 92.03 L683.70 90.66 L685.21 89.36 L686.73 88.11 L688.24 86.92 L689.76 85.79 L691.27 84.72 L692.79 83.70 L694.30 82.73 L695.82 81.81 L697.33 80.93 L698.85 80.09 L700.36 79.29 L701.88 78.53 L703.40 77.79 L704.91 77.08 L706.43 76.39 L707.94 75.72 L709.46 75.05 L710.97 74.39 L712.49 73.71 L714.00 73.03 L715.52 72.32 L717.03 71.58 L718.55 70.80 L720.06 69.98 L721.58 69.11 L723.09 68.18 L724.61 67.19 L726.12 66.12 L727.64 64.97 L729.15 63.74 L730.67 62.41 L732.18 61.00 L733.70 59.51 L735.21 57.95 L736.73 56.33 L738.25 54.64 L739.76 52.91 L741.28 51.13 L742.79 49.32 L744.31 47.49 L745.82 45.65 L747.34 43.83 L748.85 42.04 L750.37 40.29 L751.88 38.60 L753.40 36.98 L754.91 35.46 L756.43 34.03 L757.94 32.73 L759.46 31.56 L760.97 30.52 L762.49 29.64 L764.00 28.92 L765.52 28.37 L767.03 28.01 L768.55 27.84 L770.06 27.86 L771.58 28.07 L773.09 28.47 L774.61 29.06 L776.13 29.85 L777.64 30.81 L779.16 31.94 L780.67 33.22 L782.19 34.63 L783.70 36.15 L785.22 37.78 L786.73 39.48 L788.25 41.26 L789.76 43.08 L791.28 44.93 L792.79 46.81 L794.31 48.70 L795.82 50.60 L797.34 52.50 L798.85 54.40 L800.37 56.29 L801.88 58.17 L803.40 60.04 L804.91 61.88 L806.43 63.69 L807.94 65.47 L809.46 67.21 L810.97 68.90 L812.49 70.55 L814.01 72.15 L815.52 73.68 L817.04 75.15 L818.55 76.55 L820.07 77.88 L821.58 79.12 L823.10 80.28 L824.61 81.35 L826.13 82.32 L827.64 83.19 L829.16 83.96 L830.67 84.62 L832.19 85.18 L833.70 85.66 L835.22 86.05 L836.73 86.37 L838.25 86.62 L839.76 86.81 L841.28 86.95 L842.79 87.04 L844.31 87.09 L845.82 87.11 L847.34 87.10 L848.85 87.08 L850.37 87.04 L851.89 87.00 L853.40 86.97 L854.92 86.95 L856.43 86.94 L857.95 86.96 L859.46 87.01 L860.98 87.11 L862.49 87.25 L864.01 87.43 L865.52 87.66 L867.04 87.94 L868.55 88.26 L870.07 88.62 L871.58 89.03 L873.10 89.48 L874.61 89.97 L876.13 90.50 L877.64 91.08 L879.16 91.69 L880.67 92.35 L882.19 93.04 L883.70 93.77 L885.22 94.54 L886.74 95.34 L888.25 96.19 L889.77 97.06 L891.28 97.98 L892.80 98.92 L894.31 99.90 L895.83 100.92 L897.34 101.96 L898.86 103.04 L900.37 104.15 L901.89 105.29 L903.40 106.44 L904.92 107.61 L906.43 108.78 L907.95 109.95 L909.46 111.11 L910.98 112.25 L912.49 113.36 L914.01 114.43 L915.52 115.46 L917.04 116.44 L918.55 117.36 L920.07 118.22 L921.58 119.00 L923.10 119.70 L923.10 130.00 Z" stroke="#6ec5a5" stroke-opacity="0.72"/>
<path d="M185.60 130.00 L185.60 53.81 L187.11 51.60 L188.62 49.48 L190.12 47.44 L191.63 45.48 L193.14 43.61 L194.65 41.84 L196.15 40.16 L197.66 38.57 L199.17 37.09 L200.68 35.71 L202.18 34.43 L203.69 33.27 L205.20 32.22 L206.71 31.28 L208.21 30.46 L209.72 29.76 L211.23 29.18 L212.74 28.73 L214.25 28.41 L215.75 28.23 L217.26 28.17 L218.77 28.26 L220.28 28.48 L221.78 28.84 L223.29 29.32 L224.80 29.92 L226.31 30.65 L227.81 31.49 L229.32 32.44 L230.83 33.49 L232.34 34.65 L233.84 35.91 L235.35 37.25 L236.86 38.70 L238.37 40.30 L239.88 42.14 L241.38 44.27 L242.89 46.57 L244.40 48.89 L245.91 51.17 L247.41 53.40 L248.92 55.59 L250.43 57.74 L251.94 59.85 L253.44 61.93 L254.95 63.98 L256.46 65.99 L257.97 67.98 L259.47 69.94 L260.98 71.89 L262.49 73.81 L264.00 75.71 L265.50 77.59 L267.01 79.45 L268.52 81.29 L270.03 83.10 L271.54 84.89 L273.04 86.64 L274.55 88.37 L276.06 90.06 L277.57 91.73 L279.07 93.35 L280.58 94.94 L282.09 96.49 L283.60 98.01 L285.10 99.48 L286.61 100.92 L288.12 102.31 L289.63 103.67 L291.13 104.99 L292.64 106.26 L294.15 107.49 L295.66 108.68 L297.17 109.83 L298.67 110.94 L300.18 112.00 L301.69 113.02 L303.20 114.00 L304.70 114.93 L306.21 115.81 L307.72 116.65 L309.23 117.44 L310.73 118.19 L312.24 118.89 L313.75 119.54 L315.26 120.14 L316.76 120.70 L318.27 121.21 L319.78 121.68 L321.29 122.10 L322.80 122.48 L324.30 122.83 L325.81 123.13 L327.32 123.41 L328.83 123.65 L330.33 123.86 L331.84 124.04 L333.35 124.19 L334.86 124.32 L336.36 124.42 L337.87 124.50 L339.38 124.57 L340.89 124.61 L342.39 124.64 L343.90 124.65 L345.41 124.64 L346.92 124.62 L348.42 124.58 L349.93 124.52 L351.44 124.44 L352.95 124.34 L354.46 124.22 L355.96 124.09 L357.47 123.94 L358.98 123.76 L360.49 123.57 L361.99 123.36 L363.50 123.12 L365.01 122.87 L366.52 122.60 L368.02 122.30 L369.53 121.99 L371.04 121.65 L372.55 121.29 L374.05 120.91 L375.56 120.51 L377.07 120.09 L378.58 119.64 L380.09 119.18 L381.59 118.68 L383.10 118.17 L384.61 117.64 L386.12 117.08 L387.62 116.49 L389.13 115.89 L390.64 115.26 L392.15 114.60 L393.65 113.92 L395.16 113.22 L396.67 112.49 L398.18 111.74 L399.68 110.96 L401.19 110.16 L402.70 109.33 L404.21 108.47 L405.72 107.59 L407.22 106.68 L408.73 105.75 L410.24 104.79 L411.75 103.80 L413.25 102.79 L414.76 101.74 L416.27 100.67 L417.78 99.58 L419.28 98.45 L420.79 97.30 L422.30 96.12 L423.81 94.91 L425.31 93.67 L426.82 92.40 L428.33 91.10 L429.84 89.77 L431.35 88.42 L432.85 87.03 L434.36 85.62 L435.87 84.18 L437.38 82.72 L438.88 81.25 L440.39 79.76 L441.90 78.26 L443.41 76.75 L444.91 75.24 L446.42 73.72 L447.93 72.21 L449.44 70.70 L450.94 69.20 L452.45 67.71 L453.96 66.24 L455.47 64.78 L456.98 63.34 L458.48 61.93 L459.99 60.54 L461.50 59.18 L463.01 57.86 L464.51 56.57 L466.02 55.32 L467.53 54.11 L469.04 52.95 L470.54 51.84 L472.05 50.78 L473.56 49.77 L475.07 48.82 L476.57 47.94 L478.08 47.12 L479.59 46.36 L481.10 45.68 L482.60 45.07 L484.11 44.54 L485.62 44.09 L487.13 43.72 L488.64 43.43 L490.14 43.24 L491.65 43.14 L493.16 43.14 L494.67 43.24 L496.17 43.43 L497.68 43.74 L499.19 44.15 L500.70 44.67 L502.20 45.31 L503.71 46.07 L505.22 46.95 L506.73 47.95 L508.23 49.08 L509.74 50.34 L511.25 51.74 L511.25 130.00 Z" stroke="#3387bc" stroke-opacity="0.72"/>
<path d="M662.40 130.00 L662.40 110.71 L663.91 108.97 L665.43 107.27 L666.94 105.61 L668.45 103.98 L669.96 102.40 L671.48 100.85 L672.99 99.34 L674.50 97.87 L676.01 96.43 L677.53 95.04 L679.04 93.68 L680.55 92.36 L682.07 91.08 L683.58 89.83 L685.09 88.62 L686.60 87.45 L688.12 86.31 L689.63 85.22 L691.14 84.16 L692.66 83.13 L694.17 82.14 L695.68 81.19 L697.19 80.28 L698.71 79.40 L700.22 78.55 L701.73 77.75 L703.24 76.97 L704.76 76.24 L706.27 75.53 L707.78 74.85 L709.30 74.18 L710.81 73.52 L712.32 72.85 L713.83 72.17 L715.35 71.46 L716.86 70.73 L718.37 69.95 L719.88 69.12 L721.40 68.22 L722.91 67.26 L724.42 66.22 L725.94 65.09 L727.45 63.87 L728.96 62.54 L730.47 61.09 L731.99 59.55 L733.50 57.92 L735.01 56.22 L736.52 54.45 L738.04 52.63 L739.55 50.78 L741.06 48.91 L742.58 47.03 L744.09 45.16 L745.60 43.31 L747.11 41.49 L748.63 39.73 L750.14 38.04 L751.65 36.43 L753.17 34.92 L754.68 33.53 L756.19 32.26 L757.70 31.15 L759.22 30.19 L760.73 29.40 L762.24 28.81 L763.75 28.43 L765.27 28.26 L766.78 28.34 L768.29 28.65 L769.81 29.18 L771.32 29.91 L772.83 30.84 L774.34 31.94 L775.86 33.19 L777.37 34.59 L778.88 36.12 L780.39 37.75 L781.91 39.48 L783.42 41.29 L784.93 43.16 L786.45 45.08 L787.96 47.03 L789.47 48.99 L790.98 50.96 L792.50 52.91 L794.01 54.83 L795.52 56.70 L797.04 58.50 L798.55 60.23 L800.06 61.87 L801.57 63.40 L803.09 64.84 L804.60 66.20 L806.11 67.46 L807.62 68.65 L809.14 69.76 L810.65 70.80 L812.16 71.77 L813.68 72.68 L815.19 73.53 L816.70 74.33 L818.21 75.08 L819.73 75.79 L821.24 76.45 L822.75 77.09 L824.26 77.69 L825.78 78.27 L827.29 78.82 L828.80 79.36 L830.32 79.89 L831.83 80.41 L833.34 80.93 L834.85 81.45 L836.37 81.97 L837.88 82.51 L839.39 83.06 L840.91 83.61 L842.42 84.17 L843.93 84.74 L845.44 85.31 L846.96 85.88 L848.47 86.46 L849.98 87.03 L851.49 87.60 L853.01 88.17 L854.52 88.73 L856.03 89.29 L857.55 89.83 L859.06 90.37 L860.57 90.89 L862.08 91.41 L863.60 91.91 L865.11 92.39 L866.62 92.86 L868.13 93.30 L869.65 93.73 L871.16 94.13 L872.67 94.52 L874.19 94.87 L875.70 95.20 L877.21 95.51 L878.72 95.80 L880.24 96.06 L881.75 96.30 L883.26 96.53 L884.77 96.73 L886.29 96.92 L887.80 97.10 L889.31 97.26 L890.83 97.40 L892.34 97.54 L893.85 97.66 L895.36 97.78 L896.88 97.89 L898.39 97.99 L899.90 98.08 L901.42 98.17 L902.93 98.26 L904.44 98.35 L905.95 98.43 L907.47 98.52 L908.98 98.60 L910.49 98.69 L912.00 98.79 L913.52 98.89 L915.03 98.99 L916.54 99.11 L918.06 99.23 L919.57 99.36 L921.08 99.51 L922.59 99.67 L924.11 99.84 L925.62 100.03 L927.13 100.23 L928.64 100.45 L930.16 100.69 L931.67 100.95 L933.18 101.23 L934.70 101.54 L936.21 101.86 L937.72 102.22 L939.23 102.60 L940.75 103.00 L942.26 103.44 L943.77 103.91 L945.29 104.40 L946.80 104.93 L948.31 105.49 L949.82 106.09 L951.34 106.73 L952.85 107.40 L954.36 108.11 L955.87 108.86 L957.39 109.65 L958.90 110.48 L958.90 130.00 Z" stroke="#3387bc" stroke-opacity="0.72"/>
<path d="M228.75 384.00 V282.19" stroke="#d43d4f" stroke-width="2.90" stroke-dasharray="3.1 2.4"/>
<path d="M247.50 384.00 V321.04" stroke="#d43d4f" stroke-width="2.90" stroke-dasharray="7.4 2.8" stroke-dashoffset="1.5"/>
<path d="M337.80 384.00 V309.96" stroke="#d43d4f" stroke-width="2.90" stroke-dasharray="3.1 2.4"/>
<path d="M704.90 384.00 V308.41" stroke="#d43d4f" stroke-width="2.90" stroke-dasharray="3.1 2.4"/>
<path d="M728.50 384.00 V286.17" stroke="#d43d4f" stroke-width="2.90" stroke-dasharray="7.4 2.8" stroke-dashoffset="1.5"/>
<path d="M746.50 384.00 V297.18" stroke="#d43d4f" stroke-width="2.90" stroke-dasharray="3.1 2.4"/>
<path d="M230.75 384.00 V282.49" stroke="#f57547" stroke-width="2.90" stroke-dasharray="3.1 2.4"/>
<path d="M239.50 384.00 V293.70" stroke="#f57547" stroke-width="2.90" stroke-dasharray="7.4 2.8" stroke-dashoffset="1.5"/>
<path d="M347.50 384.00 V309.64" stroke="#f57547" stroke-width="2.90" stroke-dasharray="3.1 2.4"/>
<path d="M712.50 384.00 V307.24" stroke="#f57547" stroke-width="2.90" stroke-dasharray="3.1 2.4"/>
<path d="M735.40 384.00 V282.38" stroke="#f57547" stroke-width="2.90" stroke-dasharray="7.4 2.8" stroke-dashoffset="1.5"/>
<path d="M752.50 384.00 V308.91" stroke="#f57547" stroke-width="2.90" stroke-dasharray="3.1 2.4"/>
<path d="M265.00 130.00 V31.16" stroke="#fdbd6d" stroke-width="2.90" stroke-dasharray="3.1 2.4"/>
<path d="M350.75 130.00 V95.09" stroke="#fdbd6d" stroke-width="2.90" stroke-dasharray="7.4 2.8" stroke-dashoffset="1.5"/>
<path d="M485.50 130.00 V29.40" stroke="#fdbd6d" stroke-width="2.90" stroke-dasharray="3.1 2.4"/>
<path d="M768.50 130.00 V74.38" stroke="#fdbd6d" stroke-width="2.90" stroke-dasharray="3.1 2.4"/>
<path d="M811.25 130.00 V29.21" stroke="#fdbd6d" stroke-width="2.90" stroke-dasharray="7.4 2.8" stroke-dashoffset="1.5"/>
<path d="M836.90 130.00 V62.60" stroke="#fdbd6d" stroke-width="2.90" stroke-dasharray="3.1 2.4"/>
<path d="M254.90 130.00 V28.14" stroke="#feeda1" stroke-width="2.90" stroke-dasharray="3.1 2.4"/>
<path d="M271.50 130.00 V33.10" stroke="#feeda1" stroke-width="2.90" stroke-dasharray="7.4 2.8" stroke-dashoffset="1.5"/>
<path d="M455.50 130.00 V93.78" stroke="#feeda1" stroke-width="2.90" stroke-dasharray="3.1 2.4"/>
<path d="M757.50 130.00 V82.44" stroke="#feeda1" stroke-width="2.90" stroke-dasharray="3.1 2.4"/>
<path d="M803.00 130.00 V29.77" stroke="#feeda1" stroke-width="2.90" stroke-dasharray="7.4 2.8" stroke-dashoffset="1.5"/>
<path d="M826.25 130.00 V50.82" stroke="#feeda1" stroke-width="2.90" stroke-dasharray="3.1 2.4"/>
<path d="M211.30 384.00 V281.83" stroke="#f1f9a9" stroke-width="2.90" stroke-dasharray="3.1 2.4"/>
<path d="M218.75 384.00 V290.92" stroke="#f1f9a9" stroke-width="2.90" stroke-dasharray="7.4 2.8" stroke-dashoffset="1.5"/>
<path d="M325.50 384.00 V316.38" stroke="#f1f9a9" stroke-width="2.90" stroke-dasharray="3.1 2.4"/>
<path d="M688.60 384.00 V298.98" stroke="#f1f9a9" stroke-width="2.90" stroke-dasharray="3.1 2.4"/>
<path d="M710.90 384.00 V282.53" stroke="#f1f9a9" stroke-width="2.90" stroke-dasharray="7.4 2.8" stroke-dashoffset="1.5"/>
<path d="M732.20 384.00 V327.76" stroke="#f1f9a9" stroke-width="2.90" stroke-dasharray="3.1 2.4"/>
<path d="M212.80 384.00 V282.56" stroke="#bce4a0" stroke-width="2.90" stroke-dasharray="3.1 2.4"/>
<path d="M225.00 384.00 V301.57" stroke="#bce4a0" stroke-width="2.90" stroke-dasharray="7.4 2.8" stroke-dashoffset="1.5"/>
<path d="M339.90 384.00 V303.25" stroke="#bce4a0" stroke-width="2.90" stroke-dasharray="3.1 2.4"/>
<path d="M696.70 384.00 V314.15" stroke="#bce4a0" stroke-width="2.90" stroke-dasharray="3.1 2.4"/>
<path d="M721.50 384.00 V281.91" stroke="#bce4a0" stroke-width="2.90" stroke-dasharray="7.4 2.8" stroke-dashoffset="1.5"/>
<path d="M748.00 384.00 V341.08" stroke="#bce4a0" stroke-width="2.90" stroke-dasharray="3.1 2.4"/>
<path d="M223.75 130.00 V29.07" stroke="#6ec5a5" stroke-width="2.90" stroke-dasharray="3.1 2.4"/>
<path d="M337.50 130.00 V112.24" stroke="#6ec5a5" stroke-width="2.90" stroke-dasharray="7.4 2.8" stroke-dashoffset="1.5"/>
<path d="M478.75 130.00 V30.10" stroke="#6ec5a5" stroke-width="2.90" stroke-dasharray="3.1 2.4"/>
<path d="M736.25 130.00 V56.85" stroke="#6ec5a5" stroke-width="2.90" stroke-dasharray="3.1 2.4"/>
<path d="M819.50 130.00 V77.39" stroke="#6ec5a5" stroke-width="2.90" stroke-dasharray="3.1 2.4"/>
<path d="M217.00 130.00 V28.17" stroke="#3387bc" stroke-width="2.90" stroke-dasharray="3.1 2.4"/>
<path d="M256.75 130.00 V66.38" stroke="#3387bc" stroke-width="2.90" stroke-dasharray="7.4 2.8" stroke-dashoffset="1.5"/>
<path d="M492.50 130.00 V43.13" stroke="#3387bc" stroke-width="2.90" stroke-dasharray="3.1 2.4"/>
<path d="M745.50 130.00 V43.43" stroke="#3387bc" stroke-width="2.90" stroke-dasharray="3.1 2.4"/>
<path d="M774.40 130.00 V31.98" stroke="#3387bc" stroke-width="2.90" stroke-dasharray="7.4 2.8" stroke-dashoffset="1.5"/>
<path d="M842.00 130.00 V84.02" stroke="#3387bc" stroke-width="2.90" stroke-dasharray="3.1 2.4"/>
</g>
<g fill="none" stroke="#000" stroke-width="2.4" stroke-linecap="square" stroke-linejoin="miter">
<rect x="87.30" y="2.90" width="445.90" height="406.60"/>
<rect x="622.80" y="2.90" width="445.60" height="406.60"/>
</g>
<g fill="none" stroke="#000" stroke-width="2.4" stroke-linecap="butt">
<path d="M101.30 409.50 V420.70"/>
<path d="M240.63 409.50 V420.70"/>
<path d="M379.97 409.50 V420.70"/>
<path d="M519.30 409.50 V420.70"/>
<path d="M87.30 130.15 H76.00"/>
<path d="M87.30 384.15 H76.00"/>
<path d="M636.10 409.50 V420.70"/>
<path d="M775.50 409.50 V420.70"/>
<path d="M914.90 409.50 V420.70"/>
<path d="M1054.30 409.50 V420.70"/>
<path d="M622.80 130.15 H611.50"/>
<path d="M622.80 384.15 H611.50"/>
</g>
<rect x="1129.8" y="2.9" width="20.2" height="406.5" fill="url(#sp)" stroke="#000" stroke-width="2.4"/>
<text transform="translate(88.42 445.20) scale(1.0000 1.0667)" font-size="25.6">25</text>
<text transform="translate(227.45 445.20) scale(1.0000 1.0667)" font-size="25.6">24</text>
<text transform="translate(367.09 445.20) scale(1.0000 1.0667)" font-size="25.6">23</text>
<text transform="translate(506.61 445.20) scale(1.0000 1.0667)" font-size="25.6">22</text>
<text transform="translate(623.23 445.20) scale(1.0000 1.0667)" font-size="25.6">25</text>
<text transform="translate(762.31 445.20) scale(1.0000 1.0667)" font-size="25.6">24</text>
<text transform="translate(902.02 445.20) scale(1.0000 1.0667)" font-size="25.6">23</text>
<text transform="translate(1041.61 445.20) scale(1.0000 1.0667)" font-size="25.6">22</text>
<text transform="translate(36.44 139.69) scale(1.0633 1.0935)" font-size="25.6">0.8</text>
<text transform="translate(36.44 393.69) scale(1.0633 1.0935)" font-size="25.6">0.3</text>
<g><text transform="translate(174.18 478.60) scale(1.0789 1.0416)" font-size="28.5" font-style="italic">F</text>
<text transform="translate(189.99 482.17) scale(1.0900 0.9182)" font-size="23.5" font-style="italic">ν</text>
<text transform="translate(212.53 479.18) scale(1.0983 1.1029)" font-size="28.5">(</text>
<text transform="translate(222.40 478.60) scale(1.0308 1.0384)" font-size="28.5">F277W</text>
<text transform="translate(310.84 479.18) scale(1.0983 1.1029)" font-size="28.5">)</text>
<text transform="translate(332.37 481.39) scale(0.7922 1.2298)" font-size="28.5">[</text>
<text transform="translate(339.34 478.60) scale(1.0263 1.0560)" font-size="28.5">AB</text>
<text transform="translate(389.04 478.60) scale(1.0486 1.0550)" font-size="28.5">mag</text>
<text transform="translate(439.22 481.39) scale(0.7843 1.2298)" font-size="28.5">]</text></g>
<g><text transform="translate(709.28 478.60) scale(1.0789 1.0416)" font-size="28.5" font-style="italic">F</text>
<text transform="translate(725.09 482.17) scale(1.0900 0.9182)" font-size="23.5" font-style="italic">ν</text>
<text transform="translate(747.63 479.18) scale(1.0983 1.1029)" font-size="28.5">(</text>
<text transform="translate(757.50 478.60) scale(1.0308 1.0453)" font-size="28.5">F444W</text>
<text transform="translate(845.94 479.18) scale(1.0983 1.1029)" font-size="28.5">)</text>
<text transform="translate(867.47 481.39) scale(0.7922 1.2298)" font-size="28.5">[</text>
<text transform="translate(874.44 478.60) scale(1.0263 1.0560)" font-size="28.5">AB</text>
<text transform="translate(924.14 478.60) scale(1.0486 1.0550)" font-size="28.5">mag</text>
<text transform="translate(974.32 481.39) scale(0.7843 1.2298)" font-size="28.5">]</text></g>
<g transform="translate(23.7 248) rotate(-90)">
<text transform="translate(-0.51 0.00) scale(1.0429 0.9849)" font-size="28.5" font-style="italic">σ</text>
<text transform="translate(26.97 1.34) scale(0.7686 1.2170)" font-size="28.5">[</text>
<text transform="translate(32.83 0.00) scale(1.0667 0.9825)" font-size="28.5">dex</text>
<text transform="translate(75.28 1.34) scale(0.7216 1.2170)" font-size="28.5">]</text>
</g>
<g transform="translate(1184.0 282) rotate(-90)">
<text transform="translate(-1.26 -0.03) scale(1.0970 1.1216)" font-size="28.5">SFH</text>
<text transform="translate(62.63 -0.02) scale(1.0679 1.0825)" font-size="28.5">models</text>
</g>
</svg></body></html>
